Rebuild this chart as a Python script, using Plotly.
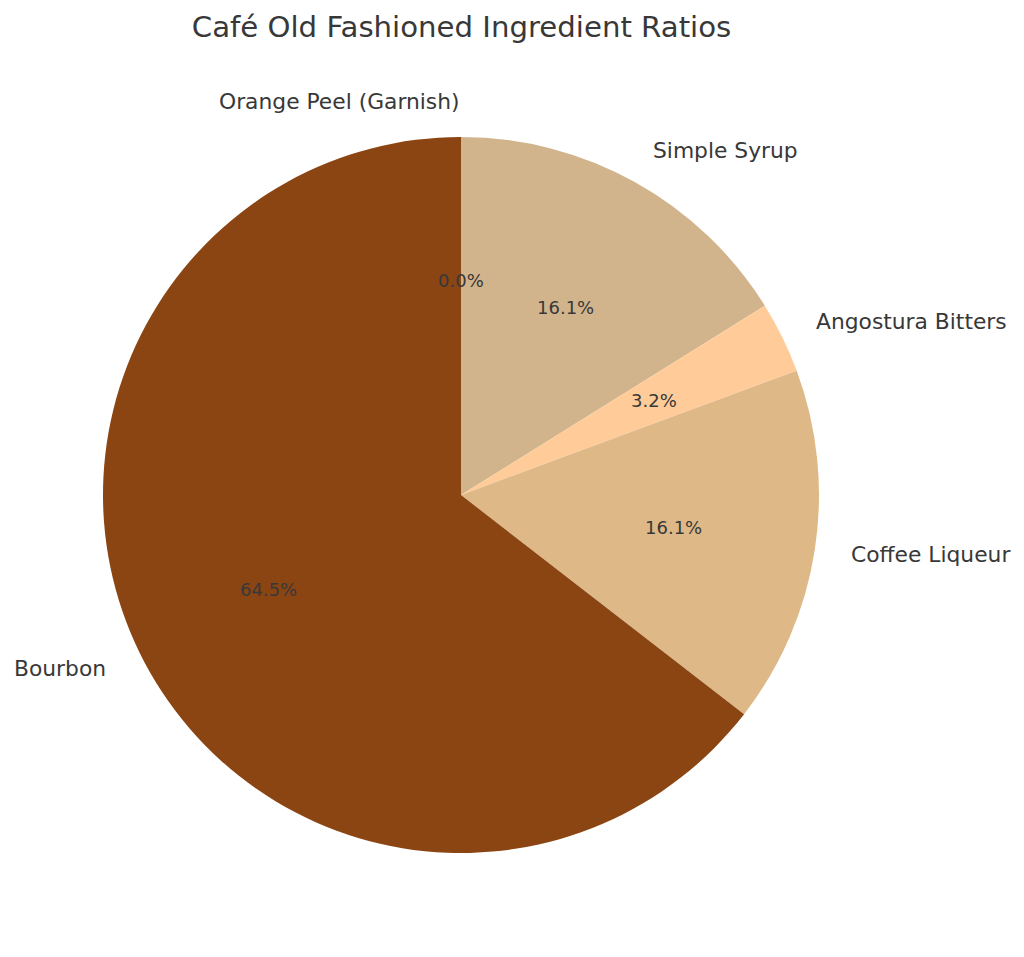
import numpy as np
import plotly.graph_objects as go

# ---- data ----
ingredients = ["Bourbon", "Coffee Liqueur", "Angostura Bitters", "Simple Syrup", "Orange Peel (Garnish)"]
amounts_oz = [2.0, 0.5, 0.1, 0.5, 0.0]
colors = ["#8B4513", "#DEB887", "#FFCC99", "#D2B48C", "#FFA500"]
title_text = "Café Old Fashioned Ingredient Ratios"

# page has an 8px body margin, so the figure is laid out in page coords - 8
OFF = 8
W, H = 1024 - OFF, 957 - OFF
CX, CY, R = 461.0 - OFF, 495.0 - OFF, 358.0  # pixel geometry of the pie
TEXT = "#383838"
FONT = "DejaVu Sans"

vals = np.array(amounts_oz, dtype=float)
frac = vals / vals.sum()
pcts = [f"{p*100:.1f}%" for p in frac]

# mid angles (start at 90°, counterclockwise) as matplotlib does
cum = np.concatenate([[0.0], np.cumsum(frac)[:-1]])
mid = np.deg2rad(90.0 + 360.0 * (cum + frac / 2.0))
cx, sy = np.cos(mid), np.sin(mid)

fig = go.Figure()

# plotly "clockwise" from 12 o'clock with reversed order == matplotlib ccw from 90°
fig.add_trace(go.Pie(
    labels=ingredients[::-1], values=amounts_oz[::-1], sort=False,
    direction="clockwise", rotation=0,
    marker=dict(colors=colors[::-1], line=dict(width=0)),
    textinfo="none", showlegend=False, hoverinfo="label+percent",
    domain=dict(x=[(CX - R) / W, (CX + R) / W], y=[1 - (CY + R) / H, 1 - (CY - R) / H]),
))

annotations = []
# percentage labels at 0.6 r
for t, x, y in zip(pcts, 0.6 * cx, 0.6 * sy):
    annotations.append(dict(x=x, y=y, xref="x", yref="y", text=t, showarrow=False,
                            xanchor="center", yanchor="middle", borderpad=0,
                            font=dict(family=FONT, size=18, color=TEXT)))
# category labels at 1.1 r
for t, x, y in zip(ingredients, 1.1 * cx, 1.1 * sy):
    annotations.append(dict(x=x, y=y, xref="x", yref="y", text=t, showarrow=False,
                            xanchor="left" if x > 1e-9 else "right", yanchor="middle",
                            borderpad=0,
                            font=dict(family=FONT, size=21.8, color=TEXT)))

fig.update_xaxes(range=[-CX / R, (W - CX) / R], domain=[0, 1], visible=False, fixedrange=True)
fig.update_yaxes(range=[-(H - CY) / R, CY / R], domain=[0, 1], visible=False, fixedrange=True)

fig.update_layout(
    width=W, height=H,
    margin=dict(l=0, r=0, t=0, b=0),
    paper_bgcolor="white", plot_bgcolor="rgba(0,0,0,0)",
    annotations=annotations,
    title=dict(text=title_text, x=(461.5 - OFF) / W, xanchor="center", y=1 - (27 - OFF) / H,
               yanchor="middle", font=dict(family=FONT, size=29.2, color=TEXT)),
)

fig.write_html("out.html")
